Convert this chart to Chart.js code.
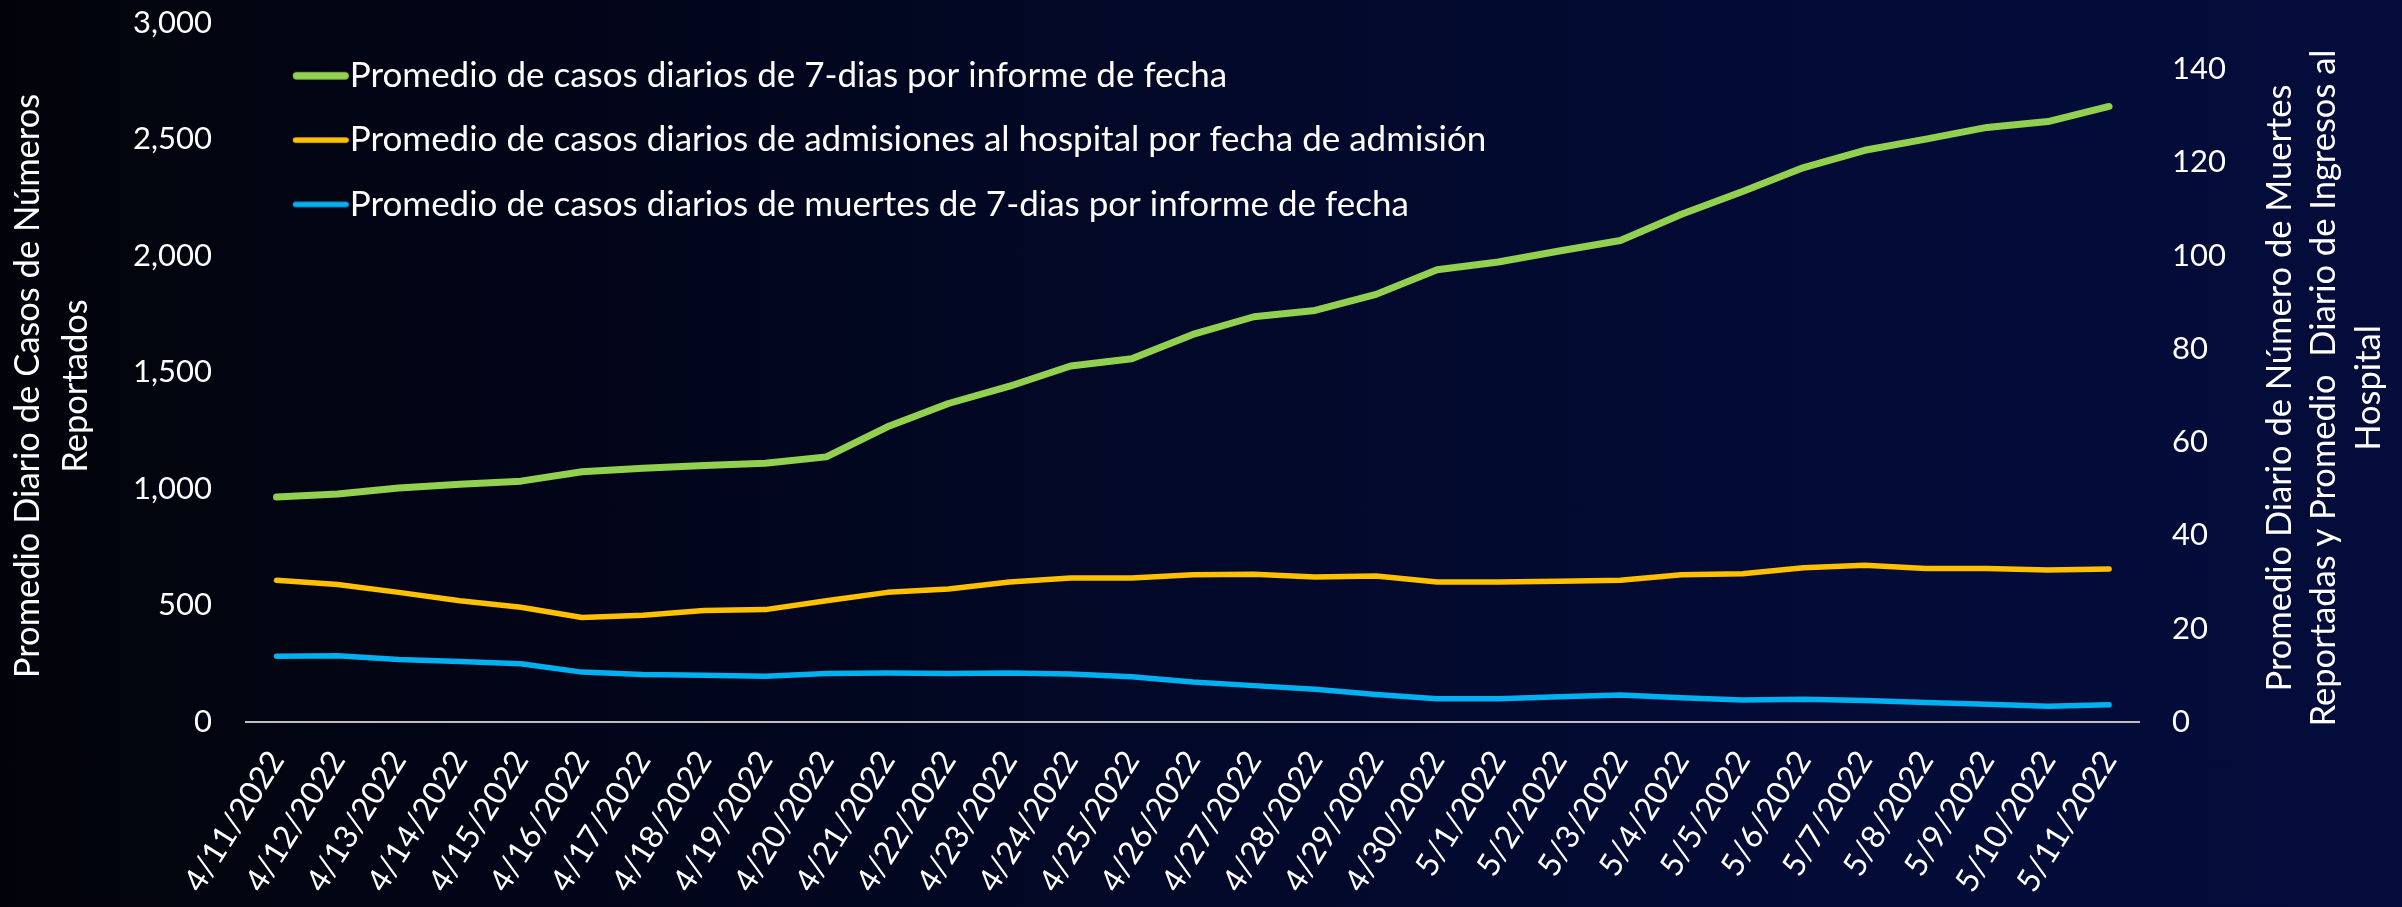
<!DOCTYPE html>
<html>
<head>
<meta charset="utf-8">
<script src="https://cdn.jsdelivr.net/npm/chart.js@4/dist/chart.umd.min.js"></script>
<style>
  html, body { margin: 0; padding: 0; }
  body {
    width: 2402px; height: 907px; overflow: hidden;
    background: linear-gradient(90deg, #02030a 0%, #020826 45%, #030b36 75%, #040c3b 100%);
  }
  canvas { display: block; }
</style>
</head>
<body>
<canvas id="grafico" width="2402" height="907"></canvas>
<script>
// Datos
const fechas = [
  "4/11/2022", "4/12/2022", "4/13/2022", "4/14/2022", "4/15/2022", "4/16/2022",
  "4/17/2022", "4/18/2022", "4/19/2022", "4/20/2022", "4/21/2022", "4/22/2022",
  "4/23/2022", "4/24/2022", "4/25/2022", "4/26/2022", "4/27/2022", "4/28/2022",
  "4/29/2022", "4/30/2022", "5/1/2022", "5/2/2022", "5/3/2022", "5/4/2022",
  "5/5/2022", "5/6/2022", "5/7/2022", "5/8/2022", "5/9/2022", "5/10/2022", "5/11/2022"
];

const casos = [965, 978, 1004, 1020, 1033, 1073, 1088, 1100, 1110, 1137, 1266, 1366,
  1440, 1527, 1558, 1662, 1738, 1765, 1834, 1940, 1973, 2020, 2065, 2178, 2275,
  2378, 2452, 2500, 2550, 2575, 2640];

const hospital = [30.4, 29.5, 27.8, 26.0, 24.6, 22.4, 22.9, 23.9, 24.1, 26.0, 27.8,
  28.5, 30.0, 30.9, 30.9, 31.6, 31.7, 31.1, 31.3, 30.0, 30.0, 30.2, 30.4, 31.6, 31.8,
  33.1, 33.6, 32.9, 32.9, 32.6, 32.8];

const muertes = [14.1, 14.2, 13.4, 13.0, 12.5, 10.7, 10.2, 10.0, 9.8, 10.4, 10.5,
  10.4, 10.5, 10.3, 9.7, 8.6, 7.8, 7.0, 5.9, 5.0, 5.0, 5.4, 5.8, 5.2, 4.7, 4.9, 4.6,
  4.2, 3.8, 3.4, 3.7];

const etiquetas = [
  "Promedio de casos diarios de 7-dias por informe de fecha",
  "Promedio de casos diarios de admisiones al hospital por fecha de admisión",
  "Promedio de casos diarios de muertes de 7-dias por informe de fecha"
];

const tituloIzq = ["Promedio Diario de Casos de Números", "Reportados"];
const tituloDer = ["Promedio Diario de Número de Muertes",
  "Reportadas y Promedio  Diario de Ingresos al", "Hospital"];

const fuente = "Lato, 'Open Sans', sans-serif";
const blanco = "#ffffff";

// muestra de linea para la leyenda, pegada al texto como en Excel
function muestra(color, grosor) {
  const c = document.createElement("canvas");
  c.width = 92;
  c.height = 12;
  const g = c.getContext("2d");
  g.strokeStyle = color;
  g.lineWidth = grosor;
  g.lineCap = "round";
  g.beginPath();
  g.moveTo(35 + grosor / 2, 6);
  g.lineTo(91 - grosor / 2, 6);
  g.stroke();
  return c;
}

// titulos de los ejes, girados de abajo hacia arriba
const titulosEjes = {
  id: "titulosEjes",
  afterDraw(chart) {
    const ctx = chart.ctx;
    const der = chart.scales.y1;
    const izq = chart.scales.y;
    const poner = (lineas, xs, y) => {
      lineas.forEach((linea, i) => {
        ctx.save();
        ctx.translate(xs[i], y);
        ctx.rotate(-Math.PI / 2);
        ctx.fillText(linea, 0, 0);
        ctx.restore();
      });
    };
    ctx.save();
    ctx.fillStyle = blanco;
    ctx.font = "34.5px " + fuente;
    ctx.textAlign = "center";
    ctx.textBaseline = "middle";
    poner(tituloIzq, [izq.left + 28, izq.left + 76], 386);
    poner(tituloDer, [der.right - 122, der.right - 78, der.right - 33], 388);
    ctx.restore();
  }
};

// sin margen extra por las etiquetas de los ejes
function ajustarEje(ancho) {
  return (s) => {
    s.width = ancho;
    s.paddingTop = 0;
    s.paddingBottom = 0;
  };
}

const ctx = document.getElementById("grafico").getContext("2d");
new Chart(ctx, {
  type: "line",
  data: {
    labels: fechas,
    datasets: [
      {
        label: etiquetas[0],
        data: casos,
        yAxisID: "y",
        borderColor: "#92D050",
        backgroundColor: "#92D050",
        borderWidth: 7,
        pointStyle: muestra("#92D050", 7.5),
      },
      {
        label: etiquetas[1],
        data: hospital,
        yAxisID: "y1",
        borderColor: "#FFC000",
        backgroundColor: "#FFC000",
        borderWidth: 5.5,
        pointStyle: muestra("#FFC000", 5.5),
      },
      {
        label: etiquetas[2],
        data: muertes,
        yAxisID: "y1",
        borderColor: "#00B0F0",
        backgroundColor: "#00B0F0",
        borderWidth: 5.5,
        pointStyle: muestra("#00B0F0", 5.5),
      },
    ],
  },
  options: {
    responsive: false,
    animation: false,
    devicePixelRatio: 1,
    layout: { padding: { top: 22.5, left: 0, right: 0, bottom: 0 } },
    elements: {
      point: { radius: 0, hoverRadius: 0 },
      line: { tension: 0, borderCapStyle: "round", borderJoinStyle: "round" },
    },
    plugins: {
      tooltip: { enabled: false },
      legend: {
        position: "chartArea",
        align: "start",
        title: {
          display: true,
          text: "",
          font: { size: 1, lineHeight: 1 },
          padding: { top: 28, bottom: 0 },
        },
        labels: {
          usePointStyle: true,
          pointStyleWidth: 57,
          padding: 29.3,
          color: blanco,
          font: { family: fuente, size: 35 },
        },
      },
    },
    scales: {
      x: {
        offset: true,
        grid: { display: false, drawTicks: false },
        border: { display: true, color: "#BFBFBF", width: 2 },
        ticks: {
          color: blanco,
          font: { family: fuente, size: 32 },
          minRotation: 58,
          maxRotation: 58,
          autoSkip: false,
          padding: 22,
        },
        afterFit: (s) => {
          s.height = 185;
          s.paddingLeft = 0;
          s.paddingRight = 0;
        },
      },
      y: {
        position: "left",
        min: 0,
        max: 3000,
        grid: { display: false, drawTicks: false },
        border: { display: false },
        ticks: {
          stepSize: 500,
          color: blanco,
          font: { family: fuente, size: 31 },
          padding: 34,
          callback: (v) => v.toLocaleString("en-US"),
        },
        afterFit: ajustarEje(246),
      },
      y1: {
        position: "right",
        min: 0,
        max: 150,
        grid: { display: false, drawTicks: false },
        border: { display: false },
        ticks: {
          stepSize: 20,
          includeBounds: false,
          color: blanco,
          font: { family: fuente, size: 31 },
          padding: 32.5,
        },
        afterFit: ajustarEje(262.4),
      },
    },
  },
  plugins: [titulosEjes],
});
</script>
</body>
</html>
